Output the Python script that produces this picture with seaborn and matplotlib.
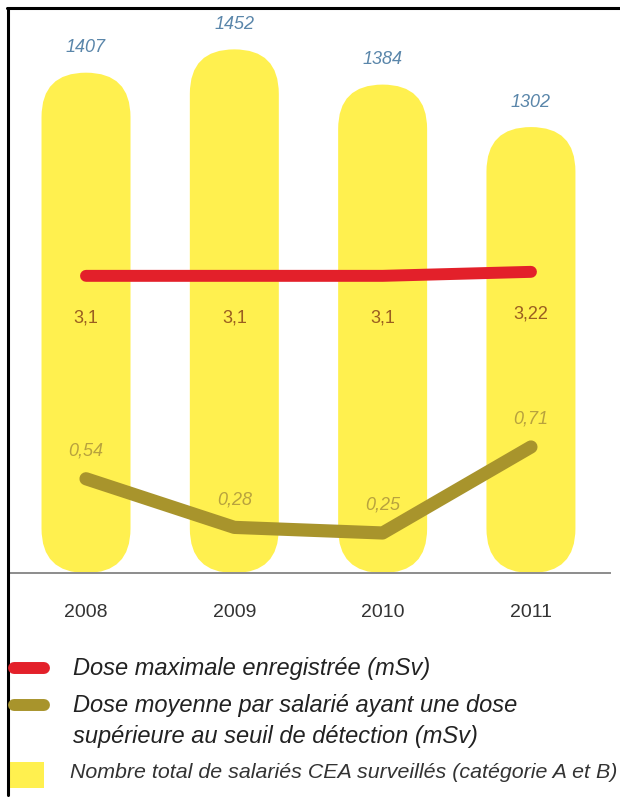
import matplotlib.pyplot as plt
import pandas as pd
import seaborn as sns
from matplotlib.lines import Line2D
from matplotlib.patches import FancyBboxPatch, Rectangle

years = ["2008", "2009", "2010", "2011"]
salaries = [1407, 1452, 1384, 1302]
dose_max = [3.1, 3.1, 3.1, 3.22]
dose_moy = [0.54, 0.28, 0.25, 0.71]
dose_max_txt = ["3,1", "3,1", "3,1", "3,22"]
dose_moy_txt = ["0,54", "0,28", "0,25", "0,71"]
leg_max = "Dose maximale enregistrée (mSv)"
leg_moy = "Dose moyenne par salarié ayant une dose\nsupérieure au seuil de détection (mSv)"
leg_sal = "Nombre total de salariés CEA surveillés (catégorie A et B)"

df = pd.DataFrame({"annee": years, "salaries": salaries,
                   "dose_max": dose_max, "dose_moy": dose_moy})
df["pos"] = range(len(df))

yellow = "#fff04f"
red = "#e3202a"
olive = "#a8942c"

sns.set_theme(style="white")
plt.rcParams["font.family"] = ["Liberation Sans", "DejaVu Sans"]

W, H = 620, 807
fig = plt.figure(figsize=(W / 100, H / 100), dpi=100)
fig.patch.set_facecolor("white")
ax = fig.add_axes([8 / W, 1 - 573 / H, 602 / W, 563 / H])

# bars (rounded afterwards)
sns.barplot(data=df, x="annee", y="salaries", ax=ax, color=yellow,
            width=0.6, errorbar=None, saturation=1)
x0, x1 = -0.526, 3.533
y0, y1 = 441, 1528
ax.set_xlim(x0, x1)
ax.set_ylim(y0, y1)
aspect = ((y1 - y0) / 563) / ((x1 - x0) / 602)
for p in list(ax.patches):
    bx, bw, bh = p.get_x(), p.get_width(), p.get_height()
    p.remove()
    ax.add_patch(FancyBboxPatch((bx, y0), bw, bh - y0,
                                boxstyle=f"round,pad=0,rounding_size={bw / 2}",
                                mutation_aspect=aspect, fc=yellow, ec="none"))
for i, v in enumerate(salaries):
    ax.annotate(str(v), (i, v), xytext=(0, 18), textcoords="offset points",
                ha="center", va="center", style="italic", fontsize=13,
                color="#5a86aa")

for s in ["top", "left", "right"]:
    ax.spines[s].set_visible(False)
ax.spines["bottom"].set_color("#8c8c8c")
ax.spines["bottom"].set_linewidth(1.4)
ax.set_yticks([])
ax.set_xlabel(None)
ax.set_ylabel(None)
ax.tick_params(axis="x", length=0, pad=22, labelsize=14, labelcolor="#333333")

# average dose
ax2 = ax.twinx()
sns.lineplot(data=df, x="pos", y="dose_moy", ax=ax2, color=olive, lw=9.5,
             solid_capstyle="round", solid_joinstyle="round")
ax2.set_ylim(0.036, 3.047)
for i, v in enumerate(dose_moy):
    ax2.annotate(dose_moy_txt[i], (i, v), xytext=(0, 20), textcoords="offset points",
                 ha="center", va="center", style="italic", fontsize=13,
                 color="#b8a23e")
ax2.set_axis_off()

# max dose
ax3 = ax.twinx()
sns.lineplot(data=df, x="pos", y="dose_max", ax=ax3, color=red, lw=8.6,
             solid_capstyle="round")
ax3.set_ylim(-5.82, 11.08)
for i, v in enumerate(dose_max):
    ax3.annotate(dose_max_txt[i], (i, v), xytext=(0, -30), textcoords="offset points",
                 ha="center", va="center", fontsize=13, color="#9a5e20")
ax3.set_axis_off()
ax.set_xlim(x0, x1)

# frame
fig.add_artist(Line2D([7 / W, 1], [1 - 8 / H] * 2, color="black", lw=2.2))
fig.add_artist(Line2D([8 / W] * 2, [1 - 8 / H, 1 - 795 / H], color="black", lw=2.2))

# legend
fig.add_artist(Line2D([14 / W, 44 / W], [1 - 668 / H] * 2, color=red, lw=8.6,
                      solid_capstyle="round"))
fig.add_artist(Line2D([14 / W, 44 / W], [1 - 705 / H] * 2, color=olive, lw=8.6,
                      solid_capstyle="round"))
fig.add_artist(Rectangle((9 / W, 1 - 788 / H), 35 / W, 26 / H,
                         transform=fig.transFigure, fc=yellow, ec="none"))
fig.text(73 / W, 1 - 668 / H, leg_max, va="center", ha="left", style="italic",
         fontsize=17, color="#222222")
fig.text(73 / W, 1 - 721 / H, leg_moy, va="center", ha="left", style="italic",
         fontsize=17, color="#222222", linespacing=1.45)
fig.text(70 / W, 1 - 773 / H, leg_sal, va="center", ha="left", style="italic",
         fontsize=15.4, color="#333333")

fig.savefig("out.png", dpi=100)
